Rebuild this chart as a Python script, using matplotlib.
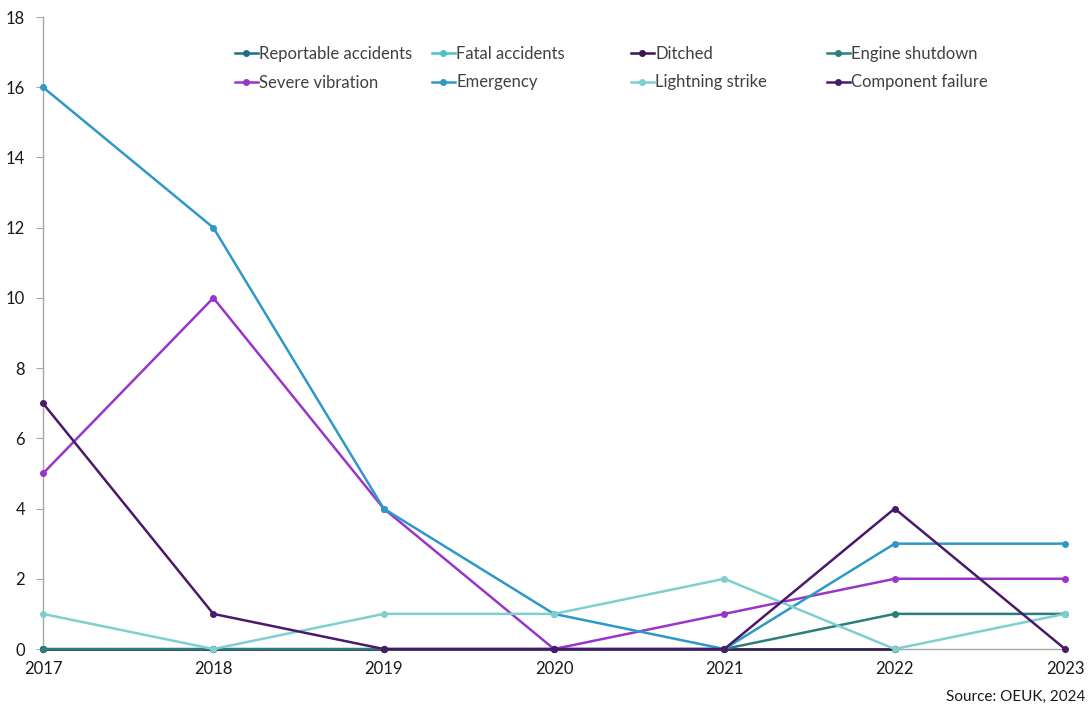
import numpy as np
import matplotlib
matplotlib.use("Agg")
import matplotlib.pyplot as plt

plt.rcParams['font.family'] = ['Lato', 'DejaVu Sans']

years = [2017, 2018, 2019, 2020, 2021, 2022, 2023]
nan = np.nan
reportable_accidents = [0, 0, 0, 0, 0, 0, nan]
fatal_accidents = [0, 0, 0, 0, 0, 0, nan]
ditched = [0, 0, 0, 0, 0, 0, nan]
engine_shutdown = [0, 0, 0, 0, 0, 1, 1]
severe_vibration = [5, 10, 4, 0, 1, 2, 2]
emergency = [16, 12, 4, 1, 0, 3, 3]
lightning_strike = [1, 0, 1, 1, 2, 0, 1]
component_failure = [7, 1, 0, 0, 0, 4, 0]

series = [
    ("Reportable accidents", reportable_accidents, "#1f6f8b"),
    ("Fatal accidents", fatal_accidents, "#4fc1c0"),
    ("Ditched", ditched, "#3b1450"),
    ("Engine shutdown", engine_shutdown, "#2a7f7b"),
    ("Severe vibration", severe_vibration, "#9a35c9"),
    ("Emergency", emergency, "#2e99c7"),
    ("Lightning strike", lightning_strike, "#7fcfcf"),
    ("Component failure", component_failure, "#4a1a6a"),
]

fig = plt.figure(figsize=(10.91, 7.09), dpi=100)
ax = fig.add_axes([43/1091, 1 - 649/709, (1065-43)/1091, (649-17)/709])

handles = []
for name, vals, col in series:
    h, = ax.plot(years, vals, color=col, lw=1.8, marker='o', markersize=4,
                 clip_on=False, label=name)
    handles.append(h)

ax.set_xlim(2017, 2023)
ax.set_ylim(0, 18)
ax.set_yticks(range(0, 19, 2))
ax.set_xticks(years)
for s in ['top', 'right']:
    ax.spines[s].set_visible(False)
for s in ['left', 'bottom']:
    ax.spines[s].set_color('#a6a6a6')
    ax.spines[s].set_linewidth(1.0)
    ax.spines[s].set_zorder(0)
ax.tick_params(axis='y', direction='out', length=5, color='#a6a6a6',
               labelsize=12, labelcolor='#1a1a1a', pad=8)
ax.tick_params(axis='x', direction='inout', length=6, color='#a6a6a6',
               labelsize=12, labelcolor='#1a1a1a', pad=6)

# legend: 4 columns, 2 rows
col_x = [235, 432, 631, 827]
for i, x in enumerate(col_x):
    hs = [handles[i], handles[i + 4]]
    leg = fig.legend(hs, [h.get_label() for h in hs], loc='upper left',
                     bbox_to_anchor=(x / 1091, 1 - 46 / 709), frameon=False,
                     fontsize=12, handlelength=1.35, handletextpad=0.1,
                     labelspacing=0.75, borderpad=0, borderaxespad=0)
    for t in leg.get_texts():
        t.set_color('#404040')

fig.text(1085 / 1091, 1 - 697 / 709, "Source: OEUK, 2024", ha='right',
         va='center', fontsize=11, color='#1a1a1a')

fig.savefig("out.png", dpi=100)
